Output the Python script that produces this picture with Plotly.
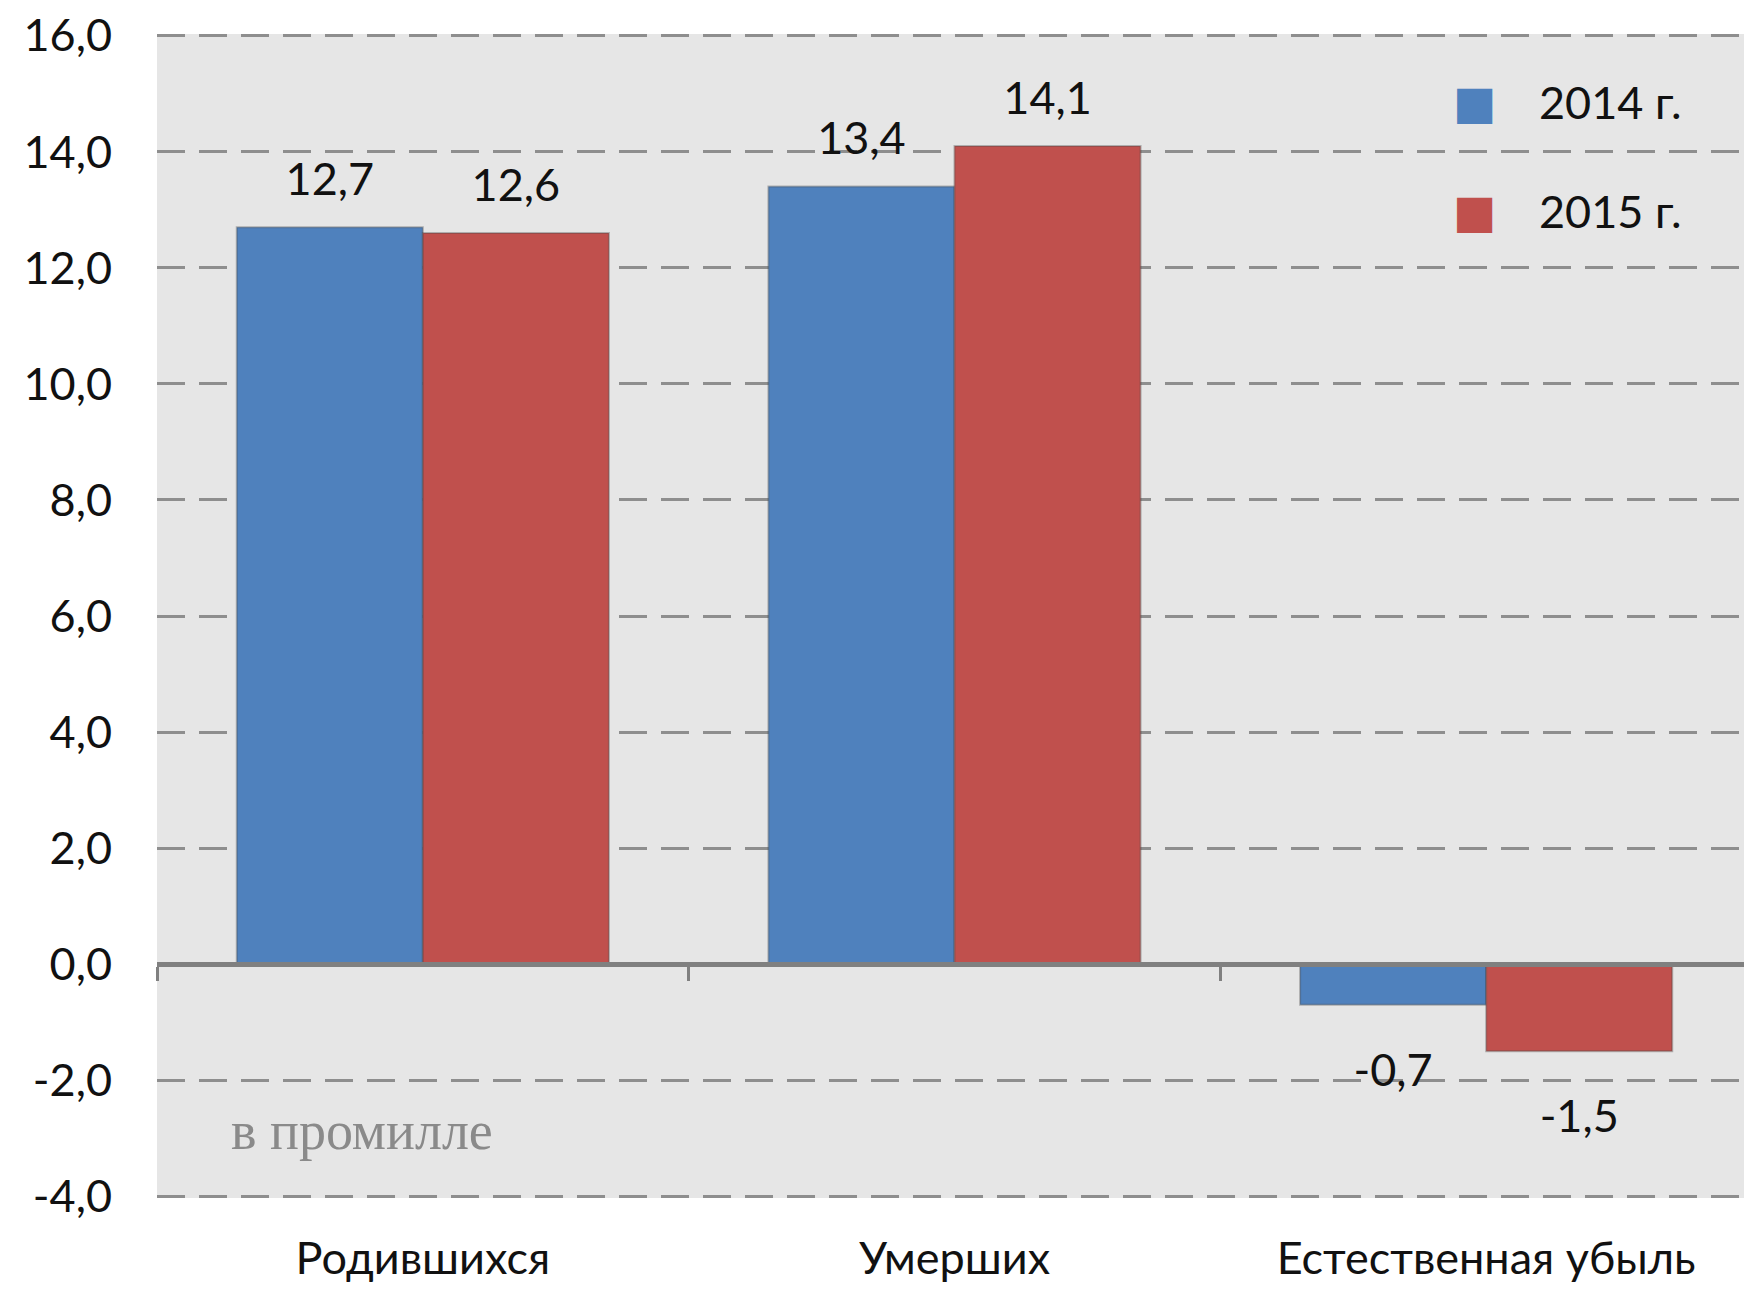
import plotly.graph_objects as go

categories = ["Родившихся", "Умерших", "Естественная убыль"]
series_names = ["2014 г.", "2015 г."]
values_2014 = [12.7, 13.4, -0.7]
values_2015 = [12.6, 14.1, -1.5]
colors = ["#4f81bd", "#c0504d"]
y_ticks = [16, 14, 12, 10, 8, 6, 4, 2, 0, -2, -4]
y_tick_labels = ["16,0", "14,0", "12,0", "10,0", "8,0", "6,0", "4,0", "2,0", "0,0", "-2,0", "-4,0"]
unit_note = "в промилле"

FONT = "Lato"
Y_RANGE = [-4.03, 16.03]


def fmt(v):
    return f"{v:.1f}".replace(".", ",")


fig = go.Figure()
for name, vals, col in zip(series_names, [values_2014, values_2015], colors):
    fig.add_trace(go.Bar(
        x=categories, y=vals, name=name,
        marker=dict(color=col, line=dict(color="rgba(70,70,70,0.35)", width=2)),
        showlegend=False,
    ))

# value labels, grouped like the bars
for name, vals in zip(series_names, [values_2014, values_2015]):
    fig.add_trace(go.Scatter(
        x=categories, y=vals, mode="markers+text", name=name,
        text=[fmt(v) for v in vals],
        textposition=["top center" if v >= 0 else "bottom center" for v in vals],
        marker=dict(size=[32 if v >= 0 else 74 for v in vals],
                    color="rgba(0,0,0,0)", line=dict(width=0)),
        textfont=dict(family=FONT, size=45, color="#111111"),
        cliponaxis=False, showlegend=False, hoverinfo="skip",
    ))

# helper trace for the zero axis with boundary ticks
fig.add_trace(go.Bar(x=categories, y=[0] * len(categories), xaxis="x2",
                     marker=dict(color="rgba(0,0,0,0)"), showlegend=False,
                     hoverinfo="skip"))

zero_pos = (0 - Y_RANGE[0]) / (Y_RANGE[1] - Y_RANGE[0])

fig.update_layout(
    width=1744, height=1282,
    margin=dict(l=149, r=0, t=26, b=92),
    paper_bgcolor="white", plot_bgcolor="#e6e6e6",
    barmode="group", bargap=0.3, bargroupgap=0,
    scattermode="group", scattergap=0.3,
    font=dict(family=FONT, size=44, color="#111111"),
    xaxis=dict(type="category", categoryarray=categories, showline=False,
               showgrid=False, ticks="", ticklabelstandoff=30, automargin=False,
               tickfont=dict(family=FONT, size=45, color="#111111")),
    xaxis2=dict(type="category", categoryarray=categories, overlaying="x",
                matches="x", anchor="free", position=zero_pos, side="bottom",
                showline=True, linecolor="#808080", linewidth=5,
                ticks="outside", tickson="boundaries", ticklen=14,
                tickwidth=3, tickcolor="#808080", showticklabels=False,
                showgrid=False, automargin=False),
    yaxis=dict(range=Y_RANGE, tickvals=y_ticks, ticktext=y_tick_labels,
               showgrid=True, gridcolor="#8e8e8e", gridwidth=3,
               griddash="28px,14px", zeroline=False, showline=False,
               ticks="", ticklabelstandoff=44, ticklabeloverflow="allow",
               automargin=False,
               tickfont=dict(family=FONT, size=45, color="#111111")),
)

fig.add_annotation(text=unit_note, xref="paper", yref="y", x=0.045, y=-2.88,
                   xanchor="left", yanchor="middle", showarrow=False,
                   font=dict(family="Liberation Serif", size=54, color="#8a8a8a"))

legend_y = [0.9417, 0.848]
for name, col, yy in zip(series_names, colors, legend_y):
    fig.add_annotation(text="■", xref="paper", yref="paper", x=0.826, y=yy,
                       xanchor="center", yanchor="middle", showarrow=False,
                       font=dict(family="DejaVu Sans", size=46, color=col))
    fig.add_annotation(text=name, xref="paper", yref="paper", x=0.865, y=yy,
                       xanchor="left", yanchor="middle", showarrow=False,
                       font=dict(family=FONT, size=45, color="#111111"))

fig.write_html("out.html")
